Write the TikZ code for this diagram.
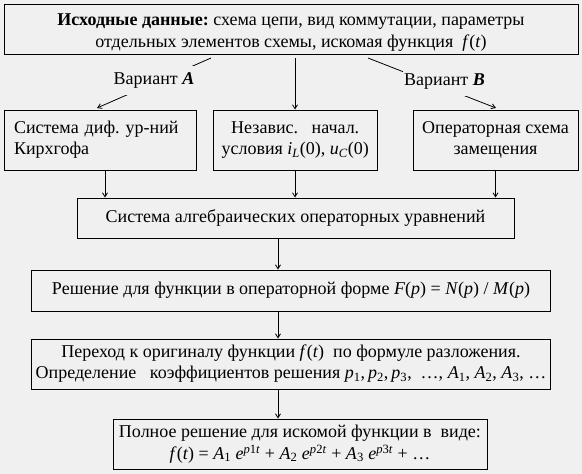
\documentclass[tikz,border=0pt]{standalone}
\usepackage{fontspec}
\setmainfont{Liberation Serif}
\usetikzlibrary{arrows.meta}
\definecolor{bg}{HTML}{F0F0F0}
\newcommand\vi[1]{\textit{#1}}
\begin{document}
\begin{tikzpicture}[x=1pt,y=-1pt,
  every node/.style={font=\fontsize{18}{21}\selectfont\frenchspacing},
  blk/.style={draw, line width=1pt, inner sep=0pt, align=center},
  arr/.style={-{Straight Barb[length=4pt,width=5pt]}, line width=0.8pt},
  lab/.style={fill=bg, inner xsep=1pt, inner ysep=0pt, minimum height=29pt}]
\useasboundingbox (0,0) rectangle (582,474);
\fill[bg] (0,0) rectangle (582,474);
% boxes
\node[blk, minimum width=574pt, minimum height=50pt] (top) at (291,29) {};
\node[align=center, font=\fontsize{18}{22}\selectfont\frenchspacing] (topText) at (291,33)
  {\textbf{Исходные данные:} схема цепи, вид коммутации, параметры\\отдельных элементов схемы, искомая функция~ \vi{f}(\vi{t})};
\node[blk, minimum width=192pt, minimum height=60pt, text width=172pt, inner xsep=10pt, align=left] (b1) at (100,140)
  {Система диф.\ ур-ний\\Кирхгофа};
\node[blk, minimum width=164.5pt, minimum height=60pt] (b2) at (295.25,140)
  {Независ.\ \ \ начал.\\условия \vi{i}\textsubscript{\vi{L}}(0), \vi{u}\textsubscript{\vi{C}}(0)};
\node[blk, minimum width=165pt, minimum height=60pt] (b3) at (495.5,140)
  {Операторная схема\\замещения};
\node[blk, minimum width=437pt, minimum height=40pt] (b4) at (295.5,218)
  {Система алгебраических операторных уравнений};
\node[blk, minimum width=519pt, minimum height=41pt] (b5) at (291,290.5)
  {Решение для функции в операторной форме \vi{F}(\vi{p}) = \vi{N}(\vi{p}) / \vi{M}(\vi{p})};
\node[blk, minimum width=519pt, minimum height=50pt] (b6) at (291,364)
  {Переход к оригиналу функции \vi{f}(\vi{t})\ \ по формуле разложения.\\Определение\ \ \ коэффициентов решения \vi{p}\textsubscript{1},\,\vi{p}\textsubscript{2},\,\vi{p}\textsubscript{3}, \ …, \vi{A}\textsubscript{1}, \vi{A}\textsubscript{2}, \vi{A}\textsubscript{3}, …};
\node[blk, minimum width=374pt, minimum height=50pt, font=\fontsize{18}{22}\selectfont\frenchspacing] (b7) at (300,444)
  {Полное решение для искомой функции в\ \ виде:\\\vi{f}(\vi{t}) = \vi{A}\textsubscript{1} \vi{e}\textsuperscript{\vi{p}1\vi{t}} + \vi{A}\textsubscript{2} \vi{e}\textsuperscript{\vi{p}2\vi{t}} + \vi{A}\textsubscript{3} \vi{e}\textsuperscript{\vi{p}3\vi{t}} + …};
% helper coordinates
\coordinate (tA) at (211,58);
\coordinate (eA) at (97,108);
\coordinate (tB) at (368,58);
\coordinate (eB) at (496,108);
\coordinate (tM) at (295,58);
\coordinate (x1) at (105,0);
\coordinate (x2) at (295,0);
\coordinate (x3) at (495.5,0);
\coordinate (xL) at (278,0);
% connectors
\draw[arr] (tA) -- (eA);
\draw[arr] (tB) -- (eB);
\draw[arr] (tM) -- (tM |- b2.north);
\draw[arr] (b1.south -| x1) -- (b4.north -| x1);
\draw[arr] (b2.south -| x2) -- (b4.north -| x2);
\draw[arr] (b3.south -| x3) -- (b4.north -| x3);
\draw[arr] (b4.south -| xL) -- (b5.north -| xL);
\draw[arr] (b5.south -| xL) -- (b6.north -| xL);
\draw[arr] (b6.south -| xL) -- (b7.north -| xL);
% labels
\node[lab] (labA) at (154,80) {Вариант \textbf{\vi{A}}};
\node[lab, anchor=west] (labB) at (403,81.5) {Вариант \textbf{\vi{B}}};
\end{tikzpicture}
\end{document}
